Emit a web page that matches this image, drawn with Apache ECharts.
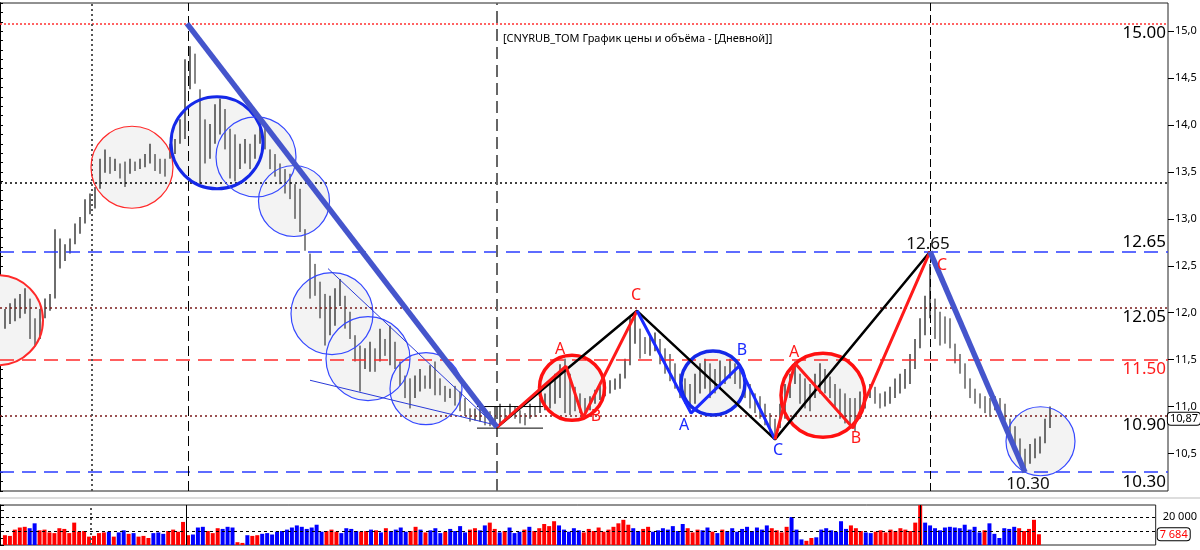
<!DOCTYPE html>
<html><head><meta charset="utf-8">
<script src="https://cdn.jsdelivr.net/npm/echarts@6/dist/echarts.min.js"></script>
<style>html,body{margin:0;padding:0;background:#fff}#c{width:1200px;height:550px}</style>
</head><body><div id="c"></div>
<script>
// ---- data (bar index 1..210) ----
const highs = [
12.04,12.10,12.15,12.20,12.26,12.15,11.94,12.04,12.15,12.20,
12.89,12.79,12.73,12.79,12.95,13.02,13.21,13.27,13.34,13.64,
13.74,13.66,13.64,13.59,13.61,13.64,13.61,13.64,13.69,13.80,
13.69,13.64,13.64,13.80,13.85,14.06,14.70,14.84,14.76,14.38,
14.06,14.01,14.22,14.28,14.17,13.96,13.90,13.80,13.85,13.80,
13.90,14.03,13.98,13.74,13.69,13.59,13.53,13.48,13.37,13.32,
12.89,12.63,12.52,12.33,12.20,12.18,12.26,12.36,12.18,12.01,
11.76,11.65,11.62,11.69,11.62,11.83,11.72,11.86,11.69,11.48,
11.33,11.30,11.33,11.40,11.33,11.44,11.48,11.30,11.22,11.19,
11.22,11.16,11.09,10.98,10.98,11.05,10.98,10.95,11.00,11.03,
10.98,11.03,11.00,10.96,10.93,11.03,11.00,11.09,11.14,11.24,
11.35,11.45,11.51,11.35,11.21,11.14,11.09,11.11,11.18,11.22,
11.26,11.28,11.30,11.35,11.51,11.96,12.01,11.83,11.74,11.77,
11.79,11.72,11.62,11.56,11.46,11.35,11.30,11.24,11.35,11.46,
11.51,11.46,11.40,11.49,11.43,11.51,11.46,11.40,11.32,11.24,
11.14,11.11,11.03,10.93,10.87,11.03,11.24,11.35,11.48,11.35,
11.30,11.24,11.35,11.46,11.40,11.32,11.24,11.19,11.14,11.09,
11.09,11.16,11.19,11.24,11.21,11.14,11.16,11.21,11.30,11.35,
11.40,11.56,11.72,11.94,12.18,12.52,12.15,12.01,11.96,11.94,
11.67,11.56,11.46,11.30,11.19,11.14,11.11,11.09,11.11,11.09,
11.03,10.87,10.79,10.66,10.55,10.60,10.66,10.68,10.87,11.00];
const lows = [
11.83,11.88,11.91,11.94,11.99,11.72,11.64,11.72,11.94,12.02,
12.15,12.47,12.55,12.63,12.73,12.84,12.95,13.05,13.11,13.32,
13.49,13.48,13.51,13.43,13.34,13.48,13.51,13.53,13.55,13.59,
13.51,13.48,13.45,13.64,13.69,13.80,13.85,14.38,14.44,13.37,
13.59,13.64,13.80,13.90,13.74,13.43,13.40,13.53,13.59,13.53,
13.64,13.80,13.74,13.53,13.45,13.37,13.27,13.21,13.00,12.86,
12.66,12.15,12.18,11.94,11.65,11.76,11.86,12.07,11.83,11.72,
11.48,11.16,11.40,11.37,11.37,11.48,11.54,11.44,11.40,11.22,
11.09,10.98,11.09,11.16,11.19,11.19,11.12,11.12,11.05,11.09,
11.01,10.95,10.90,10.84,10.85,10.84,10.80,10.79,10.80,10.82,
10.85,10.89,10.87,10.82,10.80,10.87,10.89,10.93,10.96,10.98,
11.03,11.09,10.93,10.91,10.95,10.93,10.87,10.96,11.03,11.07,
11.11,11.14,11.18,11.19,11.30,11.44,11.67,11.51,11.56,11.54,
11.59,11.45,11.35,11.27,11.19,11.09,11.03,10.95,11.03,11.14,
11.19,11.09,11.14,11.19,11.24,11.30,11.24,11.19,11.09,10.98,
10.93,10.87,10.80,10.71,10.66,10.77,10.87,11.09,11.24,11.03,
10.98,10.95,11.09,11.14,11.14,11.09,10.98,10.87,10.82,10.77,
10.74,10.87,10.98,11.09,11.03,10.98,11.00,11.03,11.09,11.14,
11.19,11.24,11.40,11.62,11.76,11.94,11.72,11.65,11.67,11.62,
11.46,11.35,11.19,11.09,11.03,10.98,10.93,10.89,10.96,10.87,
10.85,10.66,10.55,10.43,10.34,10.39,10.45,10.50,10.61,10.77];
const volumes = [
7000,6500,11000,12500,13000,12000,15500,10500,11000,9000,
8500,12000,11500,8500,16000,9500,10000,6000,6500,8500,
9000,9500,6000,9000,10500,8000,8500,6000,6500,5000,
8500,9000,8000,10000,11000,9500,16500,7000,7500,12500,
13000,10000,8500,12000,11500,13000,12500,2000,1500,7000,
6500,7000,8000,8500,7500,9500,10000,11000,12500,14000,
13000,11500,12500,14500,9500,10000,11000,9500,8500,12000,
11500,10000,9500,10000,11000,10500,9000,12000,10000,11000,
12500,9500,10000,13000,11000,9000,10500,12000,8500,9500,
11500,10000,13500,9000,11000,12000,10500,14000,16000,11500,
9000,10000,12500,8500,9500,11000,13000,10000,12000,15000,
13500,17000,14000,11000,9500,12000,10500,9000,11500,10000,
12500,9500,11000,13000,15500,18000,14500,12000,10000,11500,
13000,9500,10500,12000,11000,13500,10000,15000,12000,9000,
11000,10500,12500,9500,8500,11000,10000,12000,9500,11500,
13000,10000,12500,11000,14000,12000,10500,9000,13000,20000,
11000,4000,3000,5000,5500,11000,12000,10500,9500,17000,
11500,14000,12000,10000,9000,8500,9500,10500,9000,11000,
10000,12000,11000,10000,16000,28500,16000,14000,12000,10500,
12500,13000,12500,12000,14500,11000,13000,9000,10500,15500,
8000,5000,12000,11500,13000,12000,10000,11500,18000,7684];
const lastClose = 10.87;
const priceTicks = [10.5,11.0,11.5,12.0,12.5,13.0,13.5,14.0,14.5,15.0];
const volumeTicks = [10000, 20000];
const volumeLabelTicks = [20000];
const levelValues = [15.08, 13.38, 12.65, 12.05, 11.50, 10.90, 10.30];
const levelLabels = ['15.00', '', '12.65', '12.05', '11.50', '10.90', '10.30'];
const separators = [18.4, 37.6, 99.4, 186];
const volumeSeparators = [18.4, 37.6, 186];
const trendMain = [[37.4, 15.08], [99.4, 10.78]];
const trendLast = [[186, 12.65], [205, 10.30]];
const wedgeTop = [[65.6, 12.47], [99.4, 10.78]];
const wedgeBottom = [[62, 11.28], [98.6, 10.81]];
const boxTop = [[95.4, 11.00], [108.6, 11.00]];
const boxBottom = [[95.4, 10.77], [108.6, 10.77]];
const blackWave = [[99.4, 10.78], [127.4, 12.02], [155, 10.65], [186, 12.65]];
const redWave1 = [[99.4, 10.78], [113.2, 11.43], [116.6, 10.88], [127.4, 12.02]];
const blueWave = [[127.4, 12.02], [138.2, 10.93], [147.8, 11.43], [155, 10.65]];
const redWave2 = [[155, 10.65], [159, 11.46], [170.6, 10.77], [186, 12.65]];
const circles = [
  [-0.4, 11.92, 9.0], [26.4, 13.55, 8.2], [43.4, 13.81, 9.2], [51.2, 13.66, 8.0],
  [58.8, 13.19, 7.1], [66.4, 11.99, 8.2], [73.6, 11.51, 8.4], [85.2, 11.19, 7.2],
  [114.4, 11.20, 6.5], [142.6, 11.25, 6.4], [164.6, 11.12, 8.4], [208.1, 10.63, 6.9]];
const waveLabels = [
  [112, 11.61, 'A'], [119.2, 10.89, 'B'], [127.2, 12.18, 'C'],
  [136.8, 10.80, 'A'], [148.4, 11.60, 'B'], [155.6, 10.53, 'C'],
  [158.8, 11.58, 'A'], [171.2, 10.66, 'B'], [188.4, 12.50, 'C'],
  [185.6, 12.73, '12.65'], [205.6, 10.17, '10.30']];

// ---- styles ----
const circleStyles = [
  ['#ff2a2a', 2], ['#ff2a2a', 1.2], ['#1428e8', 3], ['#3548ff', 1.2],
  ['#3548ff', 1.2], ['#3548ff', 1.2], ['#3548ff', 1.2], ['#3548ff', 1.2],
  ['#ff1010', 3.5], ['#1428e8', 3.5], ['#ff1010', 3.5], ['#3548ff', 1.2]];
const labelColors = ['#ff1a1a','#ff1a1a','#ff1a1a','#1a2aff','#1a2aff','#1a2aff',
  '#ff1a1a','#ff1a1a','#ff1a1a','#111','#111'];
const levelStyles = [
  {color:'#ff3030', type:[2,2], width:1.5, text:'#000'},
  {color:'#000', type:[2,3], width:1.5, text:'#000'},
  {color:'#2a3cff', type:[14,8], width:1.5, text:'#000'},
  {color:'#7a1a1a', type:[2,3], width:1.5, text:'#000'},
  {color:'#ff2a2a', type:[14,8], width:1.5, text:'#ff1a1a'},
  {color:'#7a1a1a', type:[2,3], width:1.5, text:'#000'},
  {color:'#2a3cff', type:[14,8], width:1.5, text:'#000'}];
const sepStyles = [
  {color:'#555', type:[2,3], width:2},
  {color:'#000', type:[10,5], width:1},
  {color:'#666', type:[12,6], width:2},
  {color:'#000', type:[8,4], width:1}];
const volSepStyles = [
  {color:'#555', type:[2,3], width:2},
  {color:'#000', type:'solid', width:1},
  {color:'#000', type:'solid', width:1}];

const FONT = 'Noto Sans';
const N = highs.length;
const mids = highs.map((h, k) => (h + lows[k]) / 2);
const up = mids.map((m, k) => k === 0 ? true : m >= mids[k - 1]);
const priceData = highs.map((h, k) => [k + 1, h, lows[k], up[k] ? 1 : 0]);
const volData = volumes.map((v, k) => ({value: [k + 1, v], itemStyle: {color: up[k] ? '#ff0000' : '#0000ff'}}));
const fmtVol = v => String(Math.round(v)).replace(/\B(?=(\d{3})+(?!\d))/g, ' ');

function lineSeries(data, color, width, extra) {
  return Object.assign({
    type: 'line', xAxisIndex: 0, yAxisIndex: 0, data: data, symbol: 'none',
    showSymbol: false, silent: true, z: 6, animation: false,
    lineStyle: {color: color, width: width}
  }, extra || {});
}

const levelMarks = levelValues.map((v, k) => ({
  yAxis: v,
  lineStyle: {color: levelStyles[k].color, type: levelStyles[k].type, width: levelStyles[k].width},
  label: {show: levelLabels[k] !== '', formatter: levelLabels[k],
    position: k === 2 ? 'insideEndTop' : 'insideEndBottom',
    color: levelStyles[k].text, fontSize: 17, fontFamily: FONT, distance: [2, 1]}
}));
const sepMarks = separators.map((v, k) => ({
  xAxis: v, lineStyle: {color: sepStyles[k].color, type: sepStyles[k].type, width: sepStyles[k].width},
  label: {show: false}
}));

const option = {
  animation: false,
  backgroundColor: '#fff',
  title: {
    text: '[CNYRUB_TOM График цены и объёма - [Дневной]]',
    left: 503, top: 33, padding: 0,
    textStyle: {fontSize: 11, fontWeight: 'normal', color: '#000', fontFamily: FONT}
  },
  graphic: [
    {type: 'line', shape: {x1: 0, y1: 498, x2: 1200, y2: 498}, style: {stroke: '#bbb', lineWidth: 1}, silent: true}
  ],
  grid: [
    {left: 0, top: 3, width: 1168, height: 488, show: true, borderColor: '#222', borderWidth: 1, backgroundColor: '#fff'},
    {left: 0, top: 505, width: 1168, height: 40, show: true, borderColor: '#222', borderWidth: 1, backgroundColor: '#fff'}
  ],
  xAxis: [
    {type: 'value', gridIndex: 0, min: 0, max: 233.6, show: false},
    {type: 'value', gridIndex: 1, min: 0, max: 233.6, show: false}
  ],
  yAxis: [
    {type: 'value', gridIndex: 0, position: 'right', min: 10.1, max: 15.3, interval: 0.1,
      axisLine: {show: true, lineStyle: {color: '#000'}},
      axisTick: {show: true, length: 3, lineStyle: {color: '#000'}},
      axisLabel: {customValues: priceTicks, formatter: v => v.toFixed(1).replace('.', ','),
        color: '#000', fontSize: 11, fontFamily: FONT, margin: 7},
      splitLine: {show: false},
      axisPointer: {show: true, value: lastClose, status: 'show', triggerTooltip: false,
        lineStyle: {opacity: 0},
        label: {show: true, formatter: p => p.value.toFixed(2).replace('.', ','),
          color: '#000', fontSize: 11, fontFamily: FONT, backgroundColor: '#fff',
          borderColor: '#000', borderWidth: 1, padding: [1, 2, 0, 2], margin: 2}}},
    {type: 'value', gridIndex: 0, position: 'right', min: 10.1, max: 15.3,
      axisLine: {show: false},
      axisTick: {show: true, length: 6, customValues: priceTicks, lineStyle: {color: '#000'}},
      axisLabel: {show: false}, splitLine: {show: false}},
    {type: 'value', gridIndex: 0, position: 'left', min: 10.1, max: 15.3, interval: 0.1,
      axisLine: {show: true, lineStyle: {color: '#000'}},
      axisTick: {show: true, inside: true, length: 3, lineStyle: {color: '#000'}},
      axisLabel: {show: false}, splitLine: {show: false}},
    {type: 'value', gridIndex: 1, position: 'right', min: 0, max: 28600, interval: 5000,
      axisLine: {show: true, lineStyle: {color: '#000'}},
      axisTick: {show: true, length: 4, lineStyle: {color: '#000'}},
      axisLabel: {customValues: volumeLabelTicks, formatter: v => fmtVol(v),
        color: '#000', fontSize: 11, fontFamily: FONT, margin: 7},
      splitLine: {show: false},
      axisPointer: {show: true, value: volumes[N - 1], status: 'show', triggerTooltip: false,
        lineStyle: {opacity: 0},
        label: {show: true, formatter: p => fmtVol(p.value), color: '#ff0000',
          fontSize: 11, fontFamily: FONT, backgroundColor: '#fff', borderColor: '#000', borderWidth: 1,
          padding: [1, 2, 0, 2], margin: 2}}}
  ],
  axisPointer: {triggerOn: 'none'},
  series: [
    {type: 'custom', xAxisIndex: 0, yAxisIndex: 0, z: 1, silent: true, data: circles, clip: true,
      renderItem: (params, api) => {
        const c = api.coord([api.value(0), api.value(1)]);
        const r = api.size([api.value(2), 0])[0];
        return {type: 'circle', shape: {cx: c[0], cy: c[1], r: r}, style: {fill: '#f3f3f3', stroke: null}};
      }},
    {type: 'custom', xAxisIndex: 0, yAxisIndex: 0, z: 2, silent: true, data: priceData, clip: true,
      renderItem: (params, api) => {
        const x = api.value(0);
        const p1 = api.coord([x, api.value(1)]);
        const p2 = api.coord([x, api.value(2)]);
        const isUp = api.value(3) === 1;
        return {type: 'line', shape: {x1: p1[0], y1: p1[1], x2: p2[0], y2: p2[1]},
          style: {stroke: isUp ? '#6e6e6e' : '#111', lineWidth: isUp ? 2 : 1}};
      }},
    {type: 'custom', xAxisIndex: 0, yAxisIndex: 0, z: 5, silent: true, data: circles, clip: true,
      renderItem: (params, api) => {
        const i = params.dataIndex;
        const c = api.coord([api.value(0), api.value(1)]);
        const r = api.size([api.value(2), 0])[0];
        return {type: 'circle', shape: {cx: c[0], cy: c[1], r: r},
          style: {fill: null, stroke: circleStyles[i][0], lineWidth: circleStyles[i][1]}};
      }},
    lineSeries(wedgeTop, '#2a3ad8', 1),
    lineSeries(wedgeBottom, '#2a3ad8', 1),
    lineSeries(boxTop, '#000', 1),
    lineSeries(boxBottom, '#000', 1),
    lineSeries(blackWave, '#000', 2.5),
    lineSeries(redWave1, '#ff1a1a', 3),
    lineSeries(blueWave, '#1a2aff', 3),
    lineSeries(redWave2, '#ff1a1a', 3),
    lineSeries(trendMain, '#4555cc', 5.5, {z: 7, markLine: {
      silent: true, symbol: ['none', 'none'], animation: false,
      data: levelMarks.concat(sepMarks)}}),
    lineSeries(trendLast, '#4555cc', 5.5, {z: 7}),
    {type: 'custom', xAxisIndex: 0, yAxisIndex: 0, z: 8, silent: true, data: waveLabels,
      renderItem: (params, api) => {
        const i = params.dataIndex;
        const c = api.coord([api.value(0), api.value(1)]);
        const txt = waveLabels[i][2];
        return {type: 'text', x: c[0], y: c[1],
          style: {text: txt, fill: labelColors[i], font: (txt.length > 1 ? '17px ' : '16px ') + FONT,
            align: 'center', verticalAlign: 'middle'}};
      }},
    {type: 'bar', xAxisIndex: 1, yAxisIndex: 3, data: volData, barWidth: 4, silent: true, z: 2,
      markLine: {silent: true, symbol: ['none', 'none'], animation: false,
        data: volumeTicks.map(v => ({yAxis: v, lineStyle: {color: '#000', type: [3, 3], width: 1}, label: {show: false}}))
          .concat(volumeSeparators.map((v, k) => ({xAxis: v,
            lineStyle: {color: volSepStyles[k].color, type: volSepStyles[k].type, width: volSepStyles[k].width}, label: {show: false}})))}}
  ]
};
const chart = echarts.init(document.getElementById('c'), null, {renderer: 'canvas'});
chart.setOption(option);
</script>
</body></html>
